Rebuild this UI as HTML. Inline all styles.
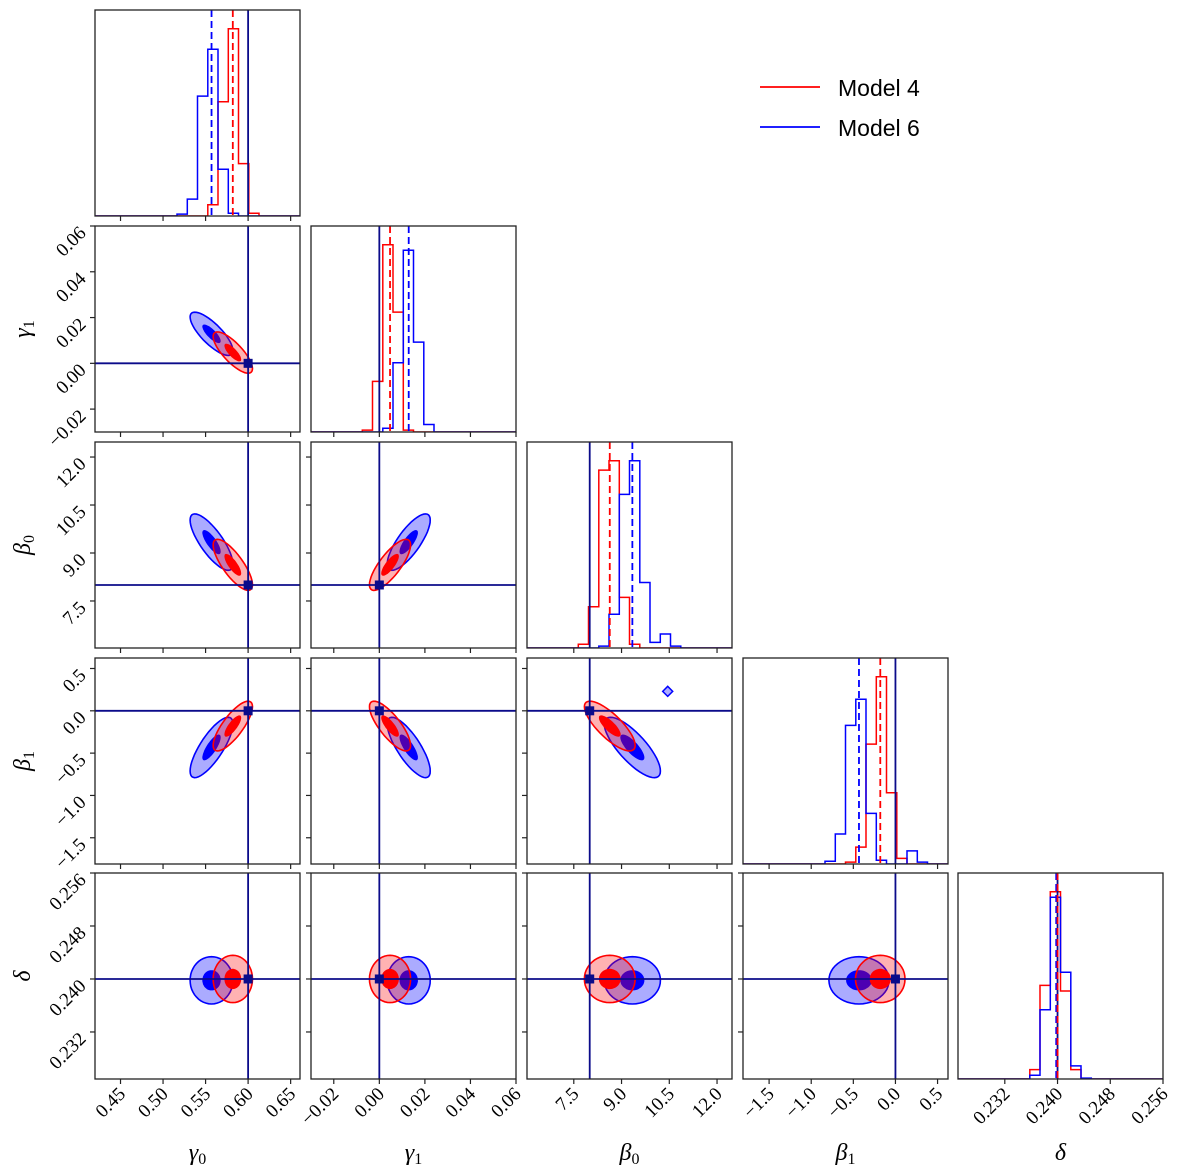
<!DOCTYPE html>
<html><head><meta charset="utf-8"><style>
body{margin:0;background:#fff}
svg{display:block}
.tk{font-family:"Liberation Serif","DejaVu Serif",serif;font-size:19px;fill:#000}
.ax{font-family:"Liberation Serif","DejaVu Serif",serif;font-size:24px;font-style:italic;fill:#000}
.lg{font-family:"Liberation Sans","DejaVu Sans",sans-serif;font-size:23px;fill:#000}
</style></head><body>
<svg id="fig" width="1200" height="1173" viewBox="0 0 1200 1173" xmlns="http://www.w3.org/2000/svg">
<g>
<line x1="760" y1="87" x2="820" y2="87" stroke="#ff0000" stroke-width="1.8"/>
<text class="lg" x="838" y="96">Model 4</text>
<line x1="760" y1="127" x2="820" y2="127" stroke="#0000ff" stroke-width="1.8"/>
<text class="lg" x="838" y="136">Model 6</text>
</g>
</svg>
<script>
const paramNames = ["gamma0","gamma1","beta0","beta1","delta"];
const paramSym = ["γ","γ","β","β","δ"];
const paramSub = ["0","1","0","1",""];
const rangeMin = [0.42, -0.03, 6.03, -1.81, 0.2249];
const rangeMax = [0.661, 0.06, 12.47, 0.624, 0.256];
const truths = [0.60, 0.0, 8.0, 0.0, 0.240];
const tickVals = [[0.45,0.50,0.55,0.60,0.65],[-0.02,0.00,0.02,0.04,0.06],[7.5,9.0,10.5,12.0],[-1.5,-1.0,-0.5,0.0,0.5],[0.232,0.240,0.248,0.256]];
const tickLabels = [["0.45","0.50","0.55","0.60","0.65"],["−0.02","0.00","0.02","0.04","0.06"],["7.5","9.0","10.5","12.0"],["−1.5","−1.0","−0.5","0.0","0.5"],["0.232","0.240","0.248","0.256"]];
// histogram counts, 20 bins across each range
const histRed = [
 [0,0,0,0,0,0,0,0,0,0,0,6,61,100,28,1.5,0,0,0,0],
 [0,0,0,0,0,1,27,100,64,1,0,0,0,0,0,0,0,0,0,0],
 [0,0,0,0,0,2,22,95,100,27,2,0,0,0,0,0,0,0,0,0],
 [0,0,0,0,0,0,0,0,0,0,1,9,64,100,38,3,0,0,0,0],
 [0,0,0,0,0,0,0,5,50,100,47,5,0,0,0,0,0,0,0,0]];
const histBlue = [
 [0,0,0,0,0,0,0,0,1,9,64,89,25,1.5,0,0,0,0,0,0],
 [0,0,0,0,0,0,0,2,37,97,48,4,0,0,0,0,0,0,0,0],
 [0,0,0,0,0,0,0,1,18,82,100,35,3,7.5,1,0,0,0,0,0],
 [0,0,0,0,0,0,0,0,1.5,16,74,88,27,2,0,0,7,1,0,0],
 [0,0,0,0,0,0,0,2,37,97,57,7,0.5,0,0,0,0,0,0,0]];
const medRed = [0.582, 0.0047, 8.63, -0.18, 0.2400];
const medBlue = [0.557, 0.0129, 9.34, -0.433, 0.2398];
const sigRed = [0.011, 0.0043, 0.38, 0.14, 0.0017];
const sigBlue = [0.012, 0.0045, 0.42, 0.17, 0.0017];
const corrSign = [1,-1,-1,1,0];
const corrMag = 0.78;
const islandBlue = [10.45, 0.23];

const colX = [95,311,527,743,958], rowY = [10,226,442,658,873], PW = 205, PH = 206;
const svg = document.getElementById('fig');
const NS = 'http://www.w3.org/2000/svg';
function mk(tag, attrs, parent){const e=document.createElementNS(NS,tag);for(const k in attrs)e.setAttribute(k,attrs[k]);(parent||svg).appendChild(e);return e;}
function sx(p,v,c){return colX[c]+(v-rangeMin[p])/(rangeMax[p]-rangeMin[p])*PW;}
function sy(p,v,r){return rowY[r]+PH-(v-rangeMin[p])/(rangeMax[p]-rangeMin[p])*PH;}
const NAVY = '#0b0b8a';

function corr(i,j){ if(corrSign[i]===0||corrSign[j]===0) return 0; return corrSign[i]*corrSign[j]*corrMag; }

function ellipse(g,px,py,r,c,mx,my,sgx,sgy,rho,k,fill,stroke,name){
  let pts=[];
  for(let n=0;n<48;n++){const t=n/48*2*Math.PI;
    const dx=k*sgx*Math.cos(t), dy=k*sgy*(rho*Math.cos(t)+Math.sqrt(1-rho*rho)*Math.sin(t));
    pts.push(sx(px,mx+dx,c).toFixed(1)+','+sy(py,my+dy,r).toFixed(1));}
  const e=mk('polygon',{points:pts.join(' '),fill:fill,stroke:stroke,'stroke-width':1.6},g);
  
  
}

for(let r=0;r<5;r++){
  for(let c=0;c<=r;c++){
    const g=mk('g',{});
    
    
    const x0=colX[c], y0=rowY[r];
    const clipId='clip'+r+c;
    const cp=mk('clipPath',{id:clipId},g); mk('rect',{x:x0,y:y0,width:PW,height:PH},cp);
    const inner=mk('g',{'clip-path':'url(#'+clipId+')'},g);
    if(r===c){
      const p=r;
      const mx=Math.max(...histRed[p],...histBlue[p])*1.1;
      const bw=PW/20;
      [[histRed[p],'#ff0000','hist-model-4'],[histBlue[p],'#0000ff','hist-model-6']].forEach(([h,col,nm])=>{
        let d='M'+x0+','+(y0+PH);
        h.forEach((v,i)=>{const yy=y0+PH-v/mx*PH;d+=' L'+(x0+i*bw).toFixed(1)+','+yy.toFixed(1)+' L'+(x0+(i+1)*bw).toFixed(1)+','+yy.toFixed(1);});
        const e=mk('path',{d:d,fill:'none',stroke:col,'stroke-width':1.5},inner);
        
        
      });
      const t=mk('line',{x1:sx(p,truths[p],c),x2:sx(p,truths[p],c),y1:y0,y2:y0+PH,stroke:NAVY,'stroke-width':1.8},inner);
      
      
      [[medBlue[p],'#0000ff','median-model-6'],[medRed[p],'#ff0000','median-model-4']].forEach(([m,col,nm])=>{
        const e=mk('line',{x1:sx(p,m,c),x2:sx(p,m,c),y1:y0,y2:y0+PH,stroke:col,'stroke-width':1.8,'stroke-dasharray':'7,4'},inner);
        
        
      });
    } else {
      const px=c, py=r;
      const rho=corr(px,py);
      ellipse(inner,px,py,r,c,medBlue[px],medBlue[py],sigBlue[px],sigBlue[py],rho,2.1,'rgba(0,0,255,0.33)','#0000ff','contour-outer-model-6');
      ellipse(inner,px,py,r,c,medBlue[px],medBlue[py],sigBlue[px],sigBlue[py],rho,0.9,'#0000ff','none','contour-inner-model-6');
      ellipse(inner,px,py,r,c,medRed[px],medRed[py],sigRed[px],sigRed[py],rho,2.1,'rgba(255,0,0,0.3)','#ff0000','contour-outer-model-4');
      ellipse(inner,px,py,r,c,medRed[px],medRed[py],sigRed[px],sigRed[py],rho,0.9,'#ff0000','none','contour-inner-model-4');
      if(px===2&&py===3){
        const ix=sx(2,islandBlue[0],c), iy=sy(3,islandBlue[1],r);
        const e=mk('polygon',{points:`${ix-5},${iy} ${ix},${iy-5} ${ix+5},${iy} ${ix},${iy+5}`,fill:'rgba(0,0,255,0.33)',stroke:'#0000ff','stroke-width':1.5},inner);
        
        
      }
      const tx=sx(px,truths[px],c), ty=sy(py,truths[py],r);
      const l1=mk('line',{x1:tx,x2:tx,y1:y0,y2:y0+PH,stroke:NAVY,'stroke-width':1.8},inner);
      
      
      const l2=mk('line',{x1:x0,x2:x0+PW,y1:ty,y2:ty,stroke:NAVY,'stroke-width':1.8},inner);
      
      
      const m=mk('rect',{x:tx-4.5,y:ty-4.5,width:9,height:9,fill:NAVY},inner);
      
      
      tickVals[py].forEach((v,i)=>{
        const yy=sy(py,v,r);
        mk('line',{x1:x0-5,x2:x0,y1:yy,y2:yy,stroke:'#222','stroke-width':1.2},g);
        if(c===0){
          const t=mk('text',{class:'tk',x:x0-8,y:yy+8,'text-anchor':'end',transform:`rotate(-45 ${x0-8} ${yy+8})`},g);
          t.textContent=tickLabels[py][i];
          
          
        }
      });
    }
    tickVals[c].forEach((v,i)=>{
      const xx=sx(c,v,c);
      if(xx<x0-1||xx>x0+PW+1) return;
      mk('line',{x1:xx,x2:xx,y1:y0+PH,y2:y0+PH+5,stroke:'#222','stroke-width':1.2},g);
      if(r===4){
        const t=mk('text',{class:'tk',x:xx+6,y:y0+PH+16,'text-anchor':'end',transform:`rotate(-45 ${xx+6} ${y0+PH+16})`},g);
        t.textContent=tickLabels[c][i];
        
        
      }
    });
    const fr=mk('rect',{x:x0,y:y0,width:PW,height:PH,fill:'none',stroke:'#222','stroke-width':1.3},g);
    
    
  }
}
for(let c=0;c<5;c++){
  const t=mk('text',{class:'ax',x:colX[c]+PW/2,y:1160,'text-anchor':'middle'});
  t.textContent=paramSym[c];
  if(paramSub[c]){const s=mk('tspan',{'font-size':'16','font-style':'normal',dy:'4'},t);s.textContent=paramSub[c];}
  
  
}
for(let r=1;r<5;r++){
  const yc=rowY[r]+PH/2;
  const t=mk('text',{class:'ax',x:30,y:yc,'text-anchor':'middle',transform:`rotate(-90 30 ${yc})`});
  t.textContent=paramSym[r];
  if(paramSub[r]){const s=mk('tspan',{'font-size':'16','font-style':'normal',dy:'4'},t);s.textContent=paramSub[r];}
  
  
}
</script>
</body></html>
